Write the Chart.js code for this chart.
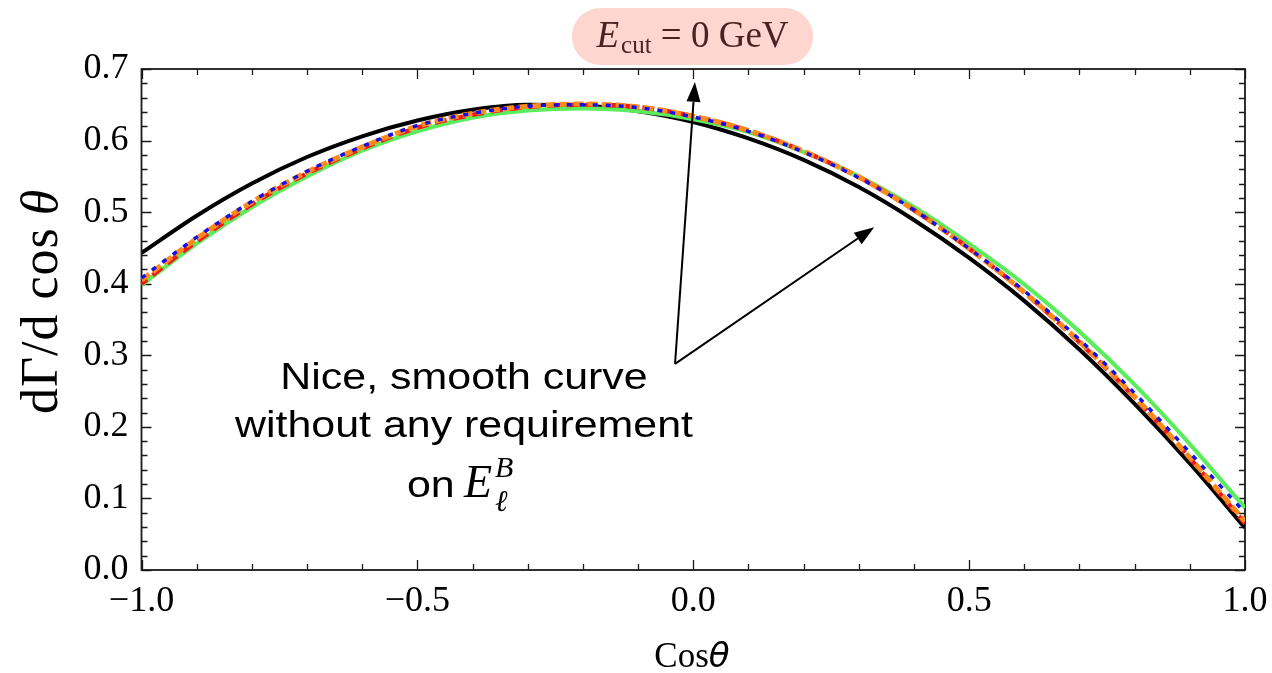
<!DOCTYPE html>
<html>
<head>
<meta charset="utf-8">
<script src="https://cdn.jsdelivr.net/npm/chart.js@4.4.0/dist/chart.umd.min.js"></script>
<style>
  html, body { margin: 0; padding: 0; background: #fff; }
  #wrap { width: 1272px; height: 673px; position: relative; }
</style>
</head>
<body>
<div id="wrap"><canvas id="chart"></canvas></div>
<script>
// cos(theta) sample points
const cosTheta = [-1.0, -0.9, -0.8, -0.7, -0.6, -0.5, -0.4, -0.3, -0.2, -0.1, 0.0,
                  0.1, 0.2, 0.3, 0.4, 0.5, 0.6, 0.7, 0.8, 0.9, 1.0];

// dGamma/dcos(theta)
const blackCurve  = [0.443, 0.495, 0.540, 0.577, 0.606, 0.628, 0.643, 0.650, 0.649, 0.641, 0.626,
                     0.603, 0.573, 0.535, 0.489, 0.436, 0.376, 0.308, 0.232, 0.149, 0.059];
const blueCurve   = [0.408, 0.465, 0.515, 0.557, 0.592, 0.621, 0.638, 0.648, 0.650, 0.646, 0.633,
                     0.613, 0.584, 0.548, 0.503, 0.449, 0.390, 0.322, 0.247, 0.164, 0.080];
const orangeCurve = [0.405, 0.463, 0.514, 0.556, 0.591, 0.620, 0.638, 0.648, 0.651, 0.647, 0.634,
                     0.614, 0.585, 0.549, 0.503, 0.449, 0.388, 0.319, 0.242, 0.157, 0.068];
const redCurve    = [0.400, 0.459, 0.511, 0.554, 0.589, 0.618, 0.636, 0.647, 0.650, 0.647, 0.634,
                     0.614, 0.585, 0.549, 0.503, 0.449, 0.388, 0.318, 0.241, 0.156, 0.065];
const greenCurve  = [0.398, 0.456, 0.507, 0.550, 0.586, 0.613, 0.632, 0.642, 0.645, 0.641, 0.630,
                     0.612, 0.584, 0.550, 0.507, 0.456, 0.399, 0.333, 0.259, 0.176, 0.087];

const xTickValues = [-1.0, -0.5, 0.0, 0.5, 1.0];
const xTickLabels = ['\u22121.0', '\u22120.5', '0.0', '0.5', '1.0'];
const yTickValues = [0.0, 0.1, 0.2, 0.3, 0.4, 0.5, 0.6, 0.7];
const yTickLabels = ['0.0', '0.1', '0.2', '0.3', '0.4', '0.5', '0.6', '0.7'];

const noteLines = ['Nice, smooth curve', 'without any requirement'];

const serif = '"Liberation Serif", "Times New Roman", serif';
const sans = '"Liberation Sans", Arial, sans-serif';

const toPoints = (ys) => cosTheta.map((x, i) => ({ x: x, y: ys[i] }));

const lookupLabel = (values, labels, v) => {
  const i = values.findIndex(t => Math.abs(t - v) < 1e-6);
  return i < 0 ? '' : labels[i];
};

const drawArrow = (ctx, x1, y1, x2, y2) => {
  const a = Math.atan2(y2 - y1, x2 - x1);
  const len = 20, half = 7;
  const bx = x2 - len * Math.cos(a), by = y2 - len * Math.sin(a);
  ctx.beginPath();
  ctx.moveTo(x1, y1);
  ctx.lineTo(bx, by);
  ctx.stroke();
  ctx.beginPath();
  ctx.moveTo(x2, y2);
  ctx.lineTo(bx + half * Math.sin(a), by - half * Math.cos(a));
  ctx.lineTo(bx - half * Math.sin(a), by + half * Math.cos(a));
  ctx.closePath();
  ctx.fill();
};

// frame with inward ticks on all four sides
const framePlugin = {
  id: 'frame',
  beforeDatasetsDraw(chart) {
    const { ctx, chartArea: ca, scales: { x, y } } = chart;
    ctx.save();
    ctx.strokeStyle = '#1a1a1a';
    ctx.lineWidth = 1.3;
    for (let k = 0; k <= 20; k++) {
      const v = -1 + k * 0.1;
      const px = Math.round(x.getPixelForValue(v)) + 0.5;
      const len = k % 5 === 0 ? 10 : 6;
      ctx.beginPath();
      ctx.moveTo(px, ca.bottom); ctx.lineTo(px, ca.bottom - len);
      ctx.moveTo(px, ca.top); ctx.lineTo(px, ca.top + len);
      ctx.stroke();
    }
    for (let k = 0; k <= 35; k++) {
      const v = k * 0.02;
      const py = Math.round(y.getPixelForValue(v)) + 0.5;
      const len = k % 5 === 0 ? 10 : 6;
      ctx.beginPath();
      ctx.moveTo(ca.left, py); ctx.lineTo(ca.left + len, py);
      ctx.moveTo(ca.right, py); ctx.lineTo(ca.right - len, py);
      ctx.stroke();
    }
    ctx.lineWidth = 1.8;
    ctx.strokeRect(ca.left, ca.top, ca.right - ca.left, ca.bottom - ca.top);
    ctx.restore();
  }
};

const notesPlugin = {
  id: 'notes',
  afterDraw(chart) {
    const { ctx, scales: { x, y } } = chart;
    ctx.save();

    // E_cut badge
    const bx = 572, by = 8, bw = 241, bh = 57;
    ctx.fillStyle = '#fdd6d0';
    ctx.beginPath();
    ctx.roundRect(bx, by, bw, bh, 28);
    ctx.fill();
    ctx.fillStyle = '#4a2222';
    ctx.textBaseline = 'alphabetic';
    ctx.textAlign = 'left';
    ctx.font = 'italic 37px ' + serif;
    const wE = ctx.measureText('E').width;
    ctx.font = '25px ' + serif;
    const wCut = ctx.measureText('cut').width;
    ctx.font = '37px ' + serif;
    const wRest = ctx.measureText(' = 0 GeV').width;
    let tx = bx + bw / 2 - (wE + wCut + 2 + wRest) / 2;
    ctx.font = 'italic 37px ' + serif;
    ctx.fillText('E', tx, 47);
    tx += wE + 2;
    ctx.font = '25px ' + serif;
    ctx.fillText('cut', tx, 53);
    tx += wCut;
    ctx.font = '37px ' + serif;
    ctx.fillText(' = 0 GeV', tx, 47);

    // arrows
    ctx.strokeStyle = '#000';
    ctx.fillStyle = '#000';
    ctx.lineWidth = 2;
    const sx = x.getPixelForValue(-0.033), sy = y.getPixelForValue(0.288);
    drawArrow(ctx, sx, sy, x.getPixelForValue(0.003), y.getPixelForValue(0.682));
    drawArrow(ctx, sx, sy, x.getPixelForValue(0.328), y.getPixelForValue(0.479));

    // note text
    const cx = 464;
    ctx.font = '37px ' + sans;
    ctx.textAlign = 'center';
    [389, 437].forEach((base, i) => {
      ctx.save();
      ctx.translate(cx, base);
      ctx.scale(1.16, 1);
      ctx.fillText(noteLines[i], 0, 0);
      ctx.restore();
    });
    ctx.textAlign = 'left';
    ctx.save();
    ctx.translate(407, 497);
    ctx.scale(1.16, 1);
    ctx.fillText('on', 0, 0);
    ctx.restore();
    ctx.font = 'italic 46px ' + serif;
    ctx.fillText('E', 464, 497);
    ctx.font = 'italic 30px ' + serif;
    ctx.fillText('B', 495, 477);
    ctx.fillText('\u2113', 495, 511);

    // axis titles
    ctx.font = '35px ' + serif;
    const wCos = ctx.measureText('Cos').width;
    ctx.font = 'italic 34px "DejaVu Sans", sans-serif';
    const wTh = ctx.measureText('\u03b8').width;
    let ax = 692 - (wCos + wTh) / 2;
    ctx.font = '35px ' + serif;
    ctx.fillText('Cos', ax, 667);
    ctx.font = 'italic 34px "DejaVu Sans", sans-serif';
    ctx.fillText('\u03b8', ax + wCos, 667);

    ctx.save();
    ctx.translate(57, 414);
    ctx.rotate(-Math.PI / 2);
    ctx.font = '52px ' + serif;
    ctx.letterSpacing = '1px';
    ctx.fillText('d\u0393/d cos', 0, 0);
    const wLab = ctx.measureText('d\u0393/d cos').width;
    ctx.font = 'italic 52px ' + serif;
    ctx.fillText('\u03b8', wLab + 12, 0);
    ctx.restore();

    ctx.restore();
  }
};

const ctxChart = document.getElementById('chart').getContext('2d');
new Chart(ctxChart, {
  type: 'line',
  data: {
    datasets: [
      { label: 'blue', data: toPoints(blueCurve), borderColor: '#1010ee', borderWidth: 3.4, borderDash: [5, 8] },
      { label: 'orange', data: toPoints(orangeCurve), borderColor: '#ff8a1a', borderWidth: 5, borderDash: [10, 4] },
      { label: 'red', data: toPoints(redCurve), borderColor: '#ee1a1a', borderWidth: 4.5, borderDash: [12, 7], borderDashOffset: 5 },
      { label: 'green', data: toPoints(greenCurve), borderColor: '#5ced5c', borderWidth: 4.2 },
      { label: 'black', data: toPoints(blackCurve), borderColor: '#000000', borderWidth: 4 }
    ]
  },
  options: {
    responsive: true,
    maintainAspectRatio: false,
    devicePixelRatio: 1,
    animation: false,
    layout: { padding: { top: 69, right: 27, left: 0, bottom: 0 } },
    elements: {
      point: { radius: 0 },
      line: { cubicInterpolationMode: 'monotone', fill: false }
    },
    plugins: {
      legend: { display: false },
      tooltip: { enabled: false }
    },
    scales: {
      x: {
        type: 'linear',
        min: -1,
        max: 1,
        afterFit: (s) => { s.height = 103; s.paddingLeft = 0; s.paddingRight = 0; },
        grid: { display: false, drawTicks: false },
        border: { display: false },
        ticks: {
          stepSize: 0.5,
          autoSkip: false,
          maxRotation: 0,
          padding: 10,
          color: '#000',
          font: { family: serif, size: 36 },
          callback: (v) => lookupLabel(xTickValues, xTickLabels, v)
        }
      },
      y: {
        type: 'linear',
        min: 0,
        max: 0.7,
        afterFit: (s) => { s.width = 141.5; s.paddingTop = 0; s.paddingBottom = 0; },
        grid: { display: false, drawTicks: false },
        border: { display: false },
        ticks: {
          stepSize: 0.1,
          padding: 13,
          color: '#000',
          font: { family: serif, size: 36 },
          callback: (v) => lookupLabel(yTickValues, yTickLabels, v)
        }
      }
    }
  },
  plugins: [framePlugin, notesPlugin]
});
</script>
</body>
</html>
